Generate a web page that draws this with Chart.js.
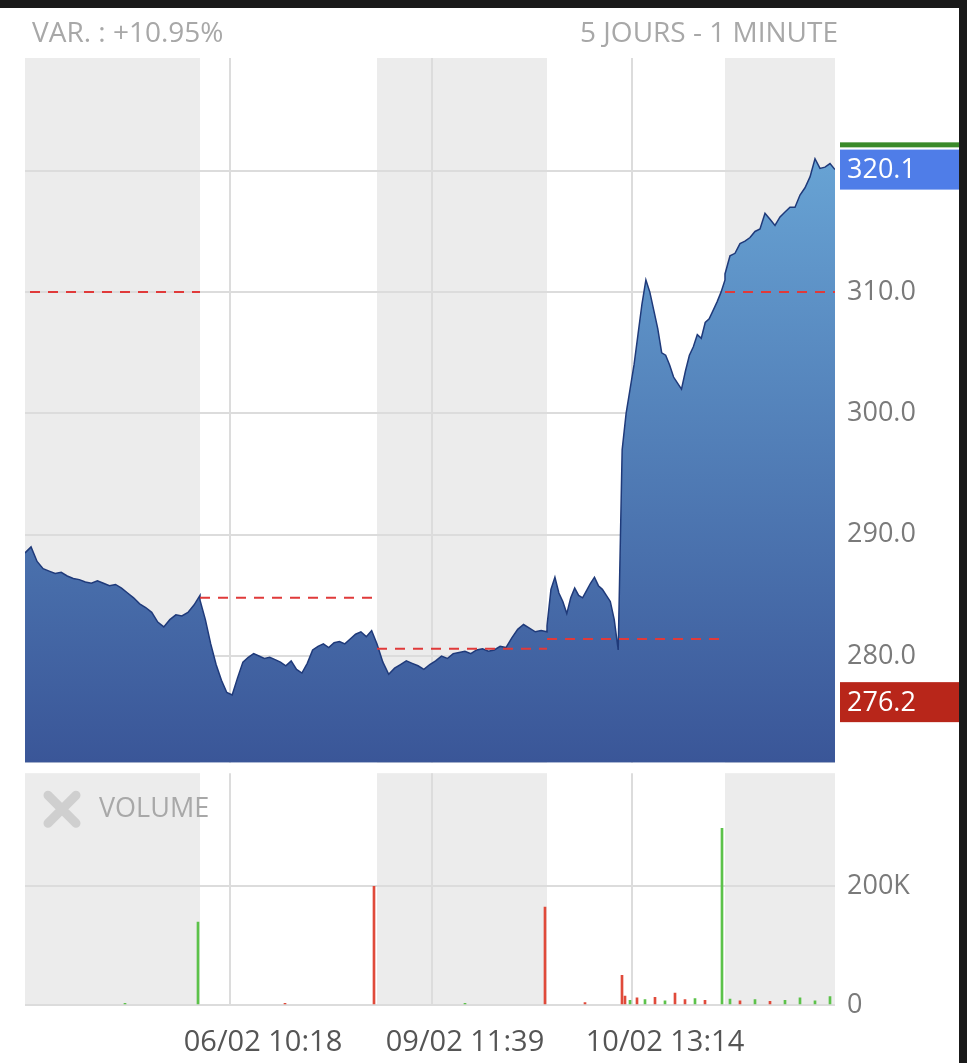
<!DOCTYPE html>
<html><head><meta charset="utf-8">
<script src="https://cdn.jsdelivr.net/npm/chart.js@4/dist/chart.umd.min.js"></script>
<style>
html,body{margin:0;padding:0;background:#fff;width:967px;height:1063px;overflow:hidden;font-family:"Open Sans",sans-serif}
#frameT{position:absolute;left:0;top:0;width:967px;height:8px;background:#1a1a1a}
#frameR{position:absolute;right:0;top:0;width:8px;height:1063px;background:#1a1a1a}
#t1{position:absolute;left:32px;top:12px;font-size:28px;color:#a8a8a8}
#t2{position:absolute;right:129px;top:12px;font-size:28px;color:#a8a8a8}
#c1{position:absolute;left:0;top:0}
#c2{position:absolute;left:0;top:745px}
</style></head><body>
<canvas id="c1" width="959" height="791"></canvas>
<canvas id="c2" width="959" height="318"></canvas>
<div id="t1">VAR. : +10.95%</div><div id="t2">5 JOURS - 1 MINUTE</div>
<div id="frameT"></div><div id="frameR"></div>
<script>
// session boundaries (time units), end of last session
const sessionStarts=[0,175,352,522,700];
const sessionEnd=810;
const prevCloses=[310.0,284.8,280.6,281.4,310.0];
const xTickPos=[205,407,607];
const xTickLabels=['06/02 10:18','09/02 11:39','10/02 13:14'];
const lastPrice=320.1, lowPrice=276.2, highPrice=322.1;
// prices per day
const day1=[288.5,289,287.8,287.2,287,286.8,286.9,286.6,286.4,286.3,286.1,286,286.2,286,285.8,285.9,285.6,285.2,284.8,284.3,284,283.6,282.8,282.4,283,283.4,283.3,283.6,284.2,285];
const day2=[284.6,283,281,279.3,278,277,276.8,278.2,279.5,279.9,280.2,280,279.8,279.9,279.7,279.5,279.2,279.6,278.9,278.6,279.4,280.5,280.8,281,280.7,281.1,281.2,281,281.4,281.8,282,281.6,282.1,281];
const day3=[281,279.5,278.5,279,279.3,279.6,279.4,279.2,278.9,279.3,279.6,280,279.8,280.2,280.3,280.4,280.2,280.5,280.6,280.4,280.5,280.8,280.7,281.5,282.2,282.6,282.3,282,282.1,282];
const day4=[282.5,285.5,286.5,285.2,284.5,283.5,284.8,285.6,285,284.8,285.4,286,286.5,285.8,285.5,285,284.5,283,280.5,297,300,302,304,306.5,309,311,310,308.5,307,305,304.8,304,303,302.5,302,303.5,304.8,305.5,306.5,306.2,307.5,307.8,308.5,309.2,310,311];
const day5=[311.5,313,313.2,314,314.2,314.5,315,315.2,316.5,316,315.5,316.2,316.6,317,317,318,318.6,319.5,321,320.2,320.3,320.6,320.1];
const days=[day1,day2,day3,day4,day5];
// volume spikes (time, volume, up?)
const volSpikes=[[173,140000,1],[349,200000,0],[520,165000,0],[597,50000,0],[697,298000,1]];
const volNoise=[[600,15000,0],[605,8000,1],[612,12000,0],[620,9000,1],[630,13000,0],[640,7000,1],[650,20000,0],[660,9000,0],[670,11000,1],[680,8000,0],[705,10000,1],[715,7000,0],[730,9000,1],[745,6000,0],[760,8000,1],[775,12000,1],[790,7000,1],[805,14000,1],[100,3000,1],[260,3000,0],[440,3000,1],[560,4000,0]];

const pricePts=[];
days.forEach((d,k)=>{const s=sessionStarts[k],e=(k<4?sessionStarts[k+1]:sessionEnd);
 d.forEach((v,i)=>pricePts.push({x:s+(e-s)*i/(d.length-1),y:v}));});
const dashSets=prevCloses.map((v,k)=>{const s=sessionStarts[k],e=(k<4?sessionStarts[k+1]:sessionEnd);
 return {type:'line',data:[{x:s+(k==0?5:0),y:v},{x:e,y:v}],borderColor:'#e03a3a',borderWidth:2,borderDash:[10,8],pointRadius:0,fill:false,order:0};});

const bandPlugin={id:'bands',beforeDraw(ch){const {ctx,chartArea:a,scales:{x}}=ch;ctx.save();
 sessionStarts.forEach((s,k)=>{if(k%2==0){const e=k<4?sessionStarts[k+1]:sessionEnd;
  ctx.fillStyle='#ececec';const l=x.getPixelForValue(s),r=x.getPixelForValue(e);ctx.fillRect(l,a.top,r-l,a.bottom-a.top);}});
 ctx.strokeStyle='#dcdcdc';ctx.lineWidth=2;
 xTickPos.forEach(p=>{const px=x.getPixelForValue(p);ctx.beginPath();ctx.moveTo(px,a.top);ctx.lineTo(px,a.bottom);ctx.stroke();});
 ctx.restore();}};
const boxPlugin={id:'boxes',afterDraw(ch){const {ctx,chartArea:a,scales:{y}}=ch;ctx.save();
 const gy=y.getPixelForValue(highPrice);ctx.fillStyle='#3a8a2a';ctx.fillRect(a.right+5,gy-3,ch.width-a.right-5,5);
 const draw=(v,c)=>{const py=y.getPixelForValue(v);ctx.fillStyle=c;ctx.fillRect(a.right+5,py-20,ch.width-a.right-5,40);
  ctx.fillStyle='#fff';ctx.font='27px "Open Sans"';ctx.textBaseline='middle';ctx.fillText(v.toFixed(1),a.right+12,py+1);};
 draw(lastPrice,'#4f7de8');draw(lowPrice,'#b8261a');ctx.restore();}};

const ctx1=document.getElementById('c1').getContext('2d');
const grad=ctx1.createLinearGradient(0,58,0,762);grad.addColorStop(0,'#6fb0de');grad.addColorStop(1,'#3a5698');
new Chart(ctx1,{type:'line',data:{datasets:[{data:pricePts,borderColor:'#1f3a7a',borderWidth:1.5,pointRadius:0,fill:'start',backgroundColor:grad,tension:0,order:1},...dashSets]},
 options:{animation:false,responsive:false,devicePixelRatio:1,layout:{padding:{left:25,top:58,bottom:3,right:0}},
 plugins:{legend:{display:false},tooltip:{enabled:false}},
 scales:{x:{type:'linear',min:0,max:sessionEnd,display:false},
  y:{position:'right',min:271.2,max:329.3,afterFit(s){s.width=124;},afterBuildTicks(s){s.ticks=[280,290,300,310,320].map(v=>({value:v}));},
   grid:{color:'#dcdcdc',lineWidth:2,drawTicks:false},border:{display:false},
   ticks:{padding:12,color:'#7a7a7a',font:{size:27,family:'"Open Sans"'},callback:v=>v.toFixed(1)}}}},
 plugins:[bandPlugin,boxPlugin]});

const vol=[...volSpikes,...volNoise].sort((a,b)=>a[0]-b[0]);
const volIconPlugin={id:'vicon',afterDraw(ch){const {ctx,chartArea:a}=ch;ctx.save();
 ctx.strokeStyle='#cfcfcf';ctx.lineWidth=9;ctx.lineCap='round';const cx=a.left+37,cy=a.top+36;
 ctx.beginPath();ctx.moveTo(cx-14,cy-14);ctx.lineTo(cx+14,cy+14);ctx.moveTo(cx+14,cy-14);ctx.lineTo(cx-14,cy+14);ctx.stroke();
 ctx.fillStyle='#a8a8a8';ctx.font='27px "Open Sans"';ctx.textBaseline='middle';ctx.fillText('VOLUME',a.left+74,cy);ctx.restore();}};
new Chart(document.getElementById('c2'),{type:'bar',data:{datasets:[{data:vol.map(v=>({x:v[0],y:v[1]})),backgroundColor:vol.map(v=>v[2]?'#5cc24a':'#e04a3a'),barThickness:2}]},
 options:{animation:false,responsive:false,devicePixelRatio:1,layout:{padding:{left:25,top:7,right:0}},
 plugins:{legend:{display:false},tooltip:{enabled:false}},
 scales:{x:{type:'linear',offset:false,min:0,max:sessionEnd,afterFit(s){s.height=58;},afterBuildTicks(s){s.ticks=xTickPos.map(v=>({value:v}));},
   grid:{display:false,offset:false},border:{display:false},ticks:{padding:12,labelOffset:33,maxRotation:0,autoSkip:false,color:'#555',font:{size:29,family:'"Open Sans"'},callback:(v,i)=>xTickLabels[i]}},
  y:{position:'right',min:0,max:391000,afterFit(s){s.width=124;},afterBuildTicks(s){s.ticks=[0,200000].map(v=>({value:v}));},
   grid:{color:'#dcdcdc',lineWidth:2,drawTicks:false},border:{display:false},
   ticks:{padding:12,color:'#7a7a7a',font:{size:27,family:'"Open Sans"'},callback:v=>v?'200K':'0'}}}},
 plugins:[bandPlugin,volIconPlugin]});
</script></body></html>
